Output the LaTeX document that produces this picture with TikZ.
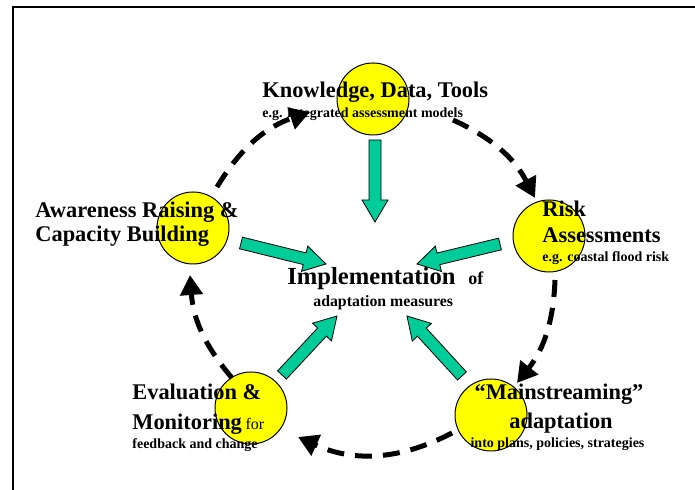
\documentclass[tikz,border=0pt]{standalone}
\usepackage{fontspec}
\setmainfont{Liberation Serif}
\usetikzlibrary{calc,arrows.meta}
\definecolor{ballyellow}{HTML}{FFFF00}
\definecolor{tealgreen}{HTML}{00CC99}
\newcommand\blockarrow[3]{%
  \coordinate (#3b) at ($(#2)!11pt!(#1)$);
  \draw[garrow] ($(#1)!3pt!90:(#2)$) -- ($(#3b)!3pt!90:(#2)$) -- ($(#3b)!6.5pt!90:(#2)$)
    -- (#2) -- ($(#3b)!6.5pt!-90:(#2)$) -- ($(#3b)!3pt!-90:(#2)$) -- ($(#1)!3pt!-90:(#2)$) -- cycle;}
\begin{document}
\begin{tikzpicture}[x=0.5pt,y=0.5pt,
  ball/.style={circle, draw=black, line width=0.5pt, fill=ballyellow, minimum size=36pt, inner sep=0pt},
  title/.style={font=\fontsize{11.2}{13}\selectfont\bfseries, inner sep=0pt},
  bigtitle/.style={font=\fontsize{12.3}{14}\selectfont\bfseries, inner sep=0pt},
  smalltext/.style={font=\fontsize{7}{8}\selectfont\bfseries, inner sep=0pt},
  garrow/.style={draw=black, line width=0.4pt, fill=tealgreen},
  cyclearrow/.style={line width=2.5pt, dash pattern=on 8.5pt off 5.5pt, -{Triangle[length=10pt,width=11pt]}}]
\useasboundingbox (0,0) rectangle (695,490);
% frame
\draw[line width=1pt] (13,0) -- (13,483) -- (695,483);
% circles
\node[ball] (K) at (373,391) {};
\node[ball] (A) at (193,262) {};
\node[ball] (R) at (549,254) {};
\node[ball] (E) at (251,82) {};
\node[ball] (M) at (491,75) {};
% texts
\node[title, anchor=base west] (Kt) at (262,392) {Knowledge, Data, Tools};
\node[smalltext, anchor=base west] (Ks) at (262,372) {e.g. integrated assessment models};
\node[title, anchor=base west] (At1) at (35,272) {Awareness Raising \&};
\node[title, anchor=base west] (At2) at (35,248) {Capacity Building};
\node[title, anchor=base west] (Rt1) at (542,273) {Risk};
\node[title, anchor=base west] (Rt2) at (542,247) {Assessments};
\node[smalltext, anchor=base west] (Rs) at (542,228) {e.g. coastal flood risk};
\node[bigtitle, anchor=base west] (It) at (287,205) {Implementation};
\node[font=\fontsize{9}{10}\selectfont\bfseries, inner sep=0pt, anchor=base west] (Io) at (468,205) {of};
\node[font=\fontsize{7.9}{9}\selectfont\bfseries, inner sep=0pt, anchor=base west] (Is) at (313,183) {adaptation measures};
\node[title, anchor=base west] (Et1) at (132,90) {Evaluation \&};
\node[title, anchor=base west] (Et2) at (132,60) {Monitoring\,{\fontsize{8}{9}\selectfont\mdseries for}};
\node[smalltext, anchor=base west] (Es) at (132,41) {feedback and change};
\node[title, anchor=base] (Mt1) at (559,90) {“Mainstreaming”};
\node[title, anchor=base] (Mt2) at (561,61) {adaptation};
\node[smalltext, anchor=base] (Ms) at (557.5,42) {into plans, policies, strategies};
% green block arrows
\coordinate (g1s) at (375,350); \coordinate (g1e) at (375,268);
\coordinate (g2s) at (241,247); \coordinate (g2e) at (326,226);
\coordinate (g3s) at (500,246); \coordinate (g3e) at (417,226);
\coordinate (g4s) at (282,115); \coordinate (g4e) at (337,174);
\coordinate (g5s) at (462,114); \coordinate (g5e) at (407,174);
\blockarrow{g1s}{g1e}{g1}
\blockarrow{g2s}{g2e}{g2}
\blockarrow{g3s}{g3e}{g3}
\blockarrow{g4s}{g4e}{g4}
\blockarrow{g5s}{g5e}{g5}
% dashed cycle arrows
\coordinate (d1s) at (217,303); \coordinate (d1e) at (310,378);
\coordinate (d2s) at (453,370); \coordinate (d2e) at (535,292);
\coordinate (d3s) at (555,210); \coordinate (d3e) at (517,107);
\coordinate (d4s) at (452,57);  \coordinate (d4e) at (298,53);
\coordinate (d5s) at (232,112); \coordinate (d5e) at (190,215);
\draw[cyclearrow] (d1s) to[bend left=20] (d1e);
\draw[cyclearrow] (d2s) to[bend left=19] (d2e);
\draw[cyclearrow] (d3s) to[bend left=18] (d3e);
\draw[cyclearrow] (d4s) to[bend left=26] (d4e);
\draw[cyclearrow] (d5s) to[bend left=18] (d5e);
\end{tikzpicture}
\end{document}
